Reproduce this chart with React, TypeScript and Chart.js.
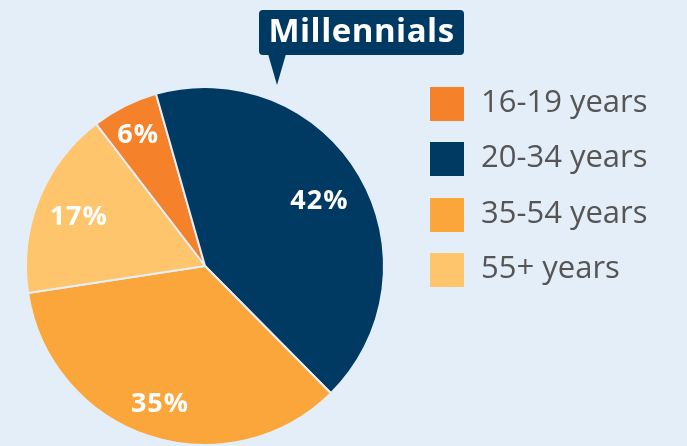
import React, { useEffect, useRef } from "react";
import { Chart, registerables } from "chart.js";

Chart.register(...registerables);

const categories = ["16-19 years", "20-34 years", "35-54 years", "55+ years"];
const shares = [6, 42, 35, 17];
const valueLabels = ["6%", "42%", "35%", "17%"];
const sliceColors = ["#F5822A", "#003A63", "#FBA63A", "#FEC56D"];
const labelRadius = [0.83, 0.74, 0.8, 0.76];
const calloutText = "Millennials";

const BG = "#E4EEF8";
const NAVY = "#003A63";
const FONT = "'Open Sans', 'DejaVu Sans', sans-serif";
const LABEL_SIZE = 27;

const labelPlugin = {
  id: "sliceLabels",
  afterDatasetsDraw(chart: any) {
    const ctx = chart.ctx;
    const meta = chart.getDatasetMeta(0);
    ctx.save();
    ctx.fillStyle = "#ffffff";
    ctx.font = `700 ${LABEL_SIZE}px ${FONT}`;
    ctx.textAlign = "center";
    ctx.textBaseline = "alphabetic";
    if ("letterSpacing" in ctx) (ctx as any).letterSpacing = "1px";
    meta.data.forEach((arc: any, i: number) => {
      const p = arc.getProps(["x", "y", "startAngle", "endAngle", "outerRadius"], true);
      const mid = (p.startAngle + p.endAngle) / 2;
      const r = p.outerRadius * labelRadius[i];
      const x = p.x + Math.cos(mid) * r;
      const y = p.y + Math.sin(mid) * r;
      ctx.fillText(valueLabels[i], x, y + LABEL_SIZE * 0.357);
    });
    ctx.restore();
  },
};

export default function App() {
  const ref = useRef<HTMLCanvasElement | null>(null);

  useEffect(() => {
    document.body.style.margin = "0";
    if (!ref.current) return;
    const chart = new Chart(ref.current, {
      type: "pie",
      data: {
        labels: categories,
        datasets: [
          {
            data: shares,
            backgroundColor: sliceColors,
            borderColor: BG,
            borderWidth: 2,
          },
        ],
      },
      options: {
        responsive: false,
        animation: false,
        rotation: -37.5,
        layout: { padding: { left: 24, right: 301, top: 86, bottom: -1 } },
        plugins: {
          legend: { display: false },
          tooltip: { enabled: false },
        },
      },
      plugins: [labelPlugin],
    });
    return () => chart.destroy();
  }, []);

  return (
    <div
      style={{
        position: "fixed",
        left: 0,
        top: 0,
        width: 687,
        height: 446,
        background: BG,
        overflow: "hidden",
        fontFamily: FONT,
      }}
    >
      <canvas ref={ref} width={687} height={446} style={{ position: "absolute", left: 0, top: 0 }} />
      <div
        style={{
          position: "absolute",
          left: 259,
          top: 10,
          width: 205,
          height: 45,
          background: NAVY,
          borderRadius: 4,
          color: "#fff",
          fontWeight: 700,
          fontSize: 33,
          lineHeight: "40px",
          textAlign: "center",
          letterSpacing: 0.5,
        }}
      >
        {calloutText}
      </div>
      <div
        style={{
          position: "absolute",
          left: 268,
          top: 54,
          width: 0,
          height: 0,
          borderLeft: "9.5px solid transparent",
          borderRight: "9.5px solid transparent",
          borderTop: `31px solid ${NAVY}`,
        }}
      />
      {categories.map((c, i) => (
        <React.Fragment key={c}>
          <div
            style={{
              position: "absolute",
              left: 430,
              top: 87 + i * 55.4,
              width: 34,
              height: 34,
              background: sliceColors[i],
            }}
          />
          <div
            style={{
              position: "absolute",
              left: 481,
              top: 84 + i * 55.4,
              fontSize: 31,
              lineHeight: "32px",
              color: "#555555",
              whiteSpace: "nowrap",
            }}
          >
            {c}
          </div>
        </React.Fragment>
      ))}
    </div>
  );
}
